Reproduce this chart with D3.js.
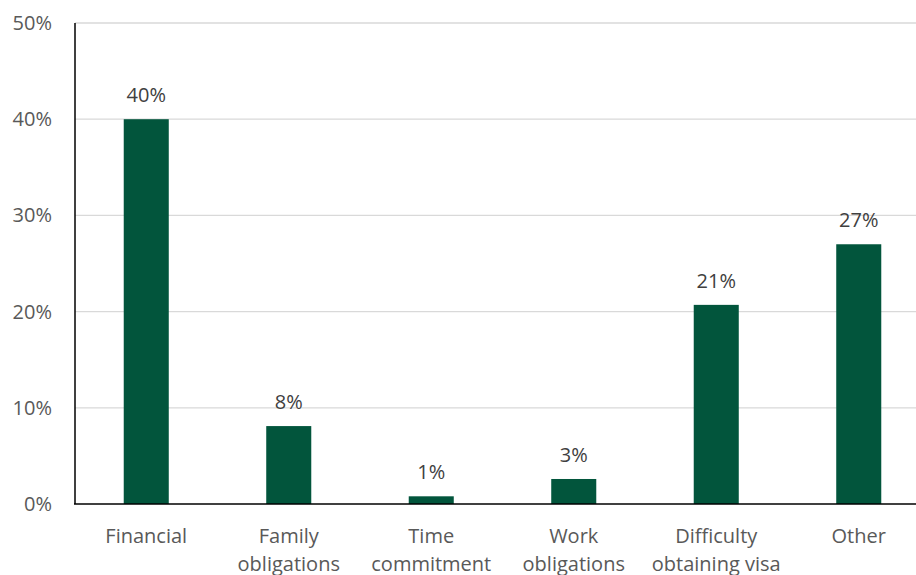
<!DOCTYPE html>
<html><head><meta charset="utf-8">
<script src="https://cdn.jsdelivr.net/npm/d3@7"></script>
<style>body{margin:0;background:#fff;} svg{display:block;}</style>
</head><body>
<svg id="chart" width="916" height="575"></svg>
<script>
const categories = [["Financial"], ["Family", "obligations"], ["Time", "commitment"], ["Work", "obligations"], ["Difficulty", "obtaining visa"], ["Other"]];
const values = [40.0, 8.1, 0.8, 2.6, 20.7, 27.0];
const valueLabels = ["40%", "8%", "1%", "3%", "21%", "27%"];
const yTicks = [0, 10, 20, 30, 40, 50];

const svg = d3.select("#chart");
const font = "'Open Sans', sans-serif";
const x = d3.scaleBand().domain(d3.range(values.length)).range([75, 930]).paddingInner(0.684).paddingOuter(0.342);
const y = d3.scaleLinear().domain([0, 50]).range([504, 23]);

// gridlines
svg.append("g").selectAll("line").data(yTicks.filter(d => d > 0)).join("line")
  .attr("x1", 75).attr("x2", 916).attr("y1", d => y(d)).attr("y2", d => y(d))
  .attr("stroke", "#d9d9d9").attr("stroke-width", 1.3);

// y tick labels
svg.append("g").selectAll("text").data(yTicks).join("text")
  .attr("x", 52).attr("y", d => y(d)).attr("dy", "0.35em").attr("text-anchor", "end")
  .attr("font-family", font).attr("font-size", 20).attr("fill", "#595959")
  .text(d => d + "%");

// bars
svg.append("g").selectAll("rect").data(values).join("rect")
  .attr("x", (d, i) => x(i)).attr("width", x.bandwidth())
  .attr("y", d => y(d)).attr("height", d => y(0) - y(d))
  .attr("fill", "#02553c");

// data labels
svg.append("g").selectAll("text").data(values).join("text")
  .attr("x", (d, i) => x(i) + x.bandwidth() / 2).attr("y", d => y(d) - 17)
  .attr("text-anchor", "middle")
  .attr("font-family", font).attr("font-size", 20).attr("fill", "#404040")
  .text((d, i) => valueLabels[i]);

// axes lines
svg.append("line").attr("x1", 75).attr("x2", 75).attr("y1", 23).attr("y2", y(0)).attr("stroke", "#000").attr("stroke-width", 1.5);
svg.append("line").attr("x1", 74).attr("x2", 916).attr("y1", y(0)).attr("y2", y(0)).attr("stroke", "#000").attr("stroke-width", 1.5);

// category labels
const cat = svg.append("g").selectAll("text").data(categories).join("text")
  .attr("x", (d, i) => x(i) + x.bandwidth() / 2).attr("y", 543)
  .attr("text-anchor", "middle")
  .attr("font-family", font).attr("font-size", 20).attr("fill", "#595959");
cat.selectAll("tspan").data(d => d).join("tspan")
  .attr("x", function () { return d3.select(this.parentNode).attr("x"); })
  .attr("dy", (d, j) => j === 0 ? 0 : 28)
  .text(d => d);
</script>
</body></html>
